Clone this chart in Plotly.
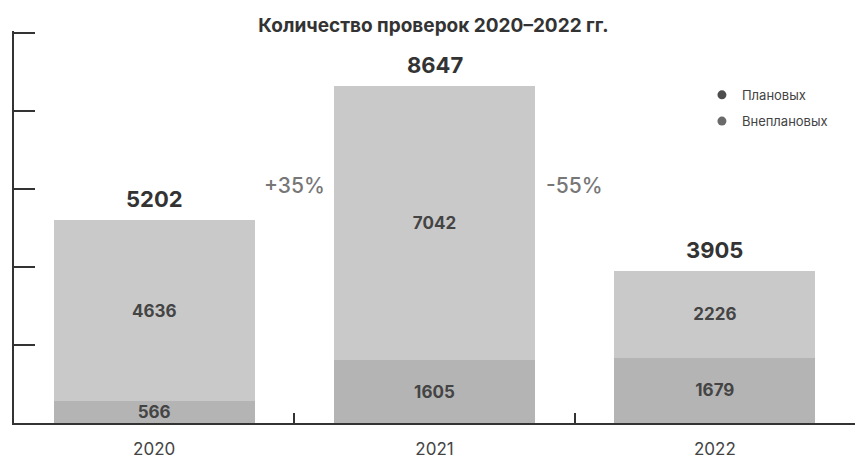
import plotly.graph_objects as go

years = ["2020", "2021", "2022"]
planned = [566, 1605, 1679]
unplanned = [4636, 7042, 2226]
totals = [5202, 8647, 3905]
changes = ["+35%", "-55%"]
title = "Количество проверок 2020–2022 гг."
legend_names = ["Плановых", "Внеплановых"]
y_ticks = [0, 2000, 4000, 6000, 8000, 10000]

FONT = "Inter"
c_planned = "#b4b4b4"
c_unplanned = "#c9c9c9"

fig = go.Figure()
fig.add_trace(go.Bar(
    x=years, y=planned, marker=dict(color=c_planned, line=dict(width=0)),
    text=[str(v) for v in planned], textposition="inside", insidetextanchor="middle",
    constraintext="none", textfont=dict(family=FONT, size=17, color="#444", weight="bold"),
    showlegend=False, hoverinfo="skip"))
fig.add_trace(go.Bar(
    x=years, y=unplanned, marker=dict(color=c_unplanned, line=dict(width=0)),
    text=[str(v) for v in unplanned], textposition="inside", insidetextanchor="middle",
    constraintext="none", textfont=dict(family=FONT, size=17, color="#444", weight="bold"),
    showlegend=False, hoverinfo="skip"))

# legend entries (circle markers)
fig.add_trace(go.Scatter(x=[None], y=[None], mode="markers", name=legend_names[0],
                         marker=dict(symbol="circle", size=9, color="#4d4d4d"), legend="legend"))
fig.add_trace(go.Scatter(x=[None], y=[None], mode="markers", name=legend_names[1],
                         marker=dict(symbol="circle", size=9, color="#6a6a6a"), legend="legend2"))

# totals
for i, t in enumerate(totals):
    fig.add_annotation(x=i, y=t, text=str(t), showarrow=False, yanchor="bottom", yshift=6,
                       font=dict(family=FONT, size=22, color="#333", weight="bold"))

# change labels between bars
for i, ch in enumerate(changes):
    fig.add_annotation(x=i + 0.5, y=6080, text=ch, showarrow=False,
                       font=dict(family=FONT, size=21, color="#777", weight=500))

fig.update_layout(
    width=855, height=459,
    margin=dict(l=14, r=0, t=31, b=36),
    barmode="stack", bargap=0.283,
    paper_bgcolor="white", plot_bgcolor="white",
    title=dict(text=title, x=0.507, xanchor="center", y=0.945, yanchor="middle",
               font=dict(family=FONT, size=19, color="#333", weight="bold")),
    legend=dict(x=0.818, xanchor="left", y=0.837, yanchor="middle",
                font=dict(family=FONT, size=13, color="#444"), bgcolor="rgba(0,0,0,0)"),
    legend2=dict(x=0.818, xanchor="left", y=0.770, yanchor="middle",
                 font=dict(family=FONT, size=13, color="#444"), bgcolor="rgba(0,0,0,0)"),
    xaxis=dict(type="category", range=[-0.5, 2.5], showline=True, linewidth=2, linecolor="#333",
               ticks="inside", tickson="boundaries", ticklen=10, tickwidth=2, tickcolor="#333",
               showgrid=False, ticklabelstandoff=10,
               tickfont=dict(family=FONT, size=17, color="#444")),
    yaxis=dict(range=[0, 10050], tickmode="array", tickvals=y_ticks, showline=True, linewidth=2,
               linecolor="#333", ticks="inside", ticklen=21, tickwidth=2, tickcolor="#333",
               showticklabels=False, showgrid=False, zeroline=False),
)

fig.write_html("out.html", config={"displayModeBar": False},
               post_script="document.body.style.margin='0';")
